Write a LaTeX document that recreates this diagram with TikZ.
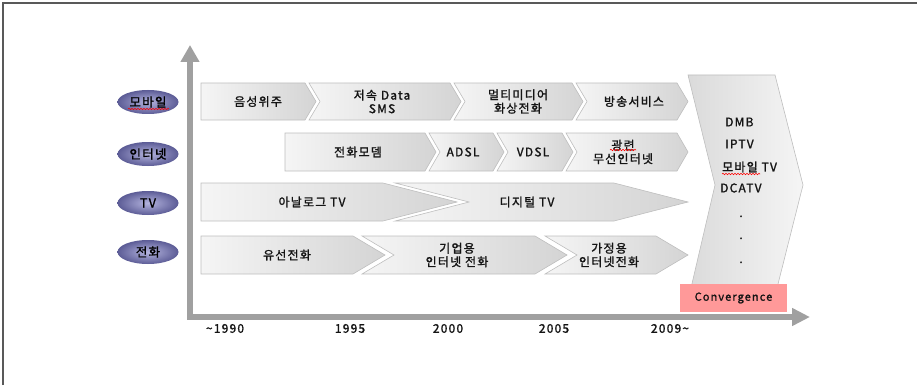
\documentclass[tikz,border=0pt]{standalone}
\usepackage{fontspec}
\setmainfont{Noto Sans CJK KR}[LetterSpace=10,FakeBold=1.4]
\usetikzlibrary{shapes.geometric,arrows.meta,decorations.pathmorphing}
\definecolor{axisgray}{RGB}{160,160,160}
\definecolor{boxedge}{RGB}{190,190,190}
\definecolor{boxlight}{RGB}{245,245,245}
\definecolor{boxdark}{RGB}{212,212,212}
\definecolor{catin}{RGB}{180,180,222}
\definecolor{catout}{RGB}{92,92,150}
\definecolor{convpink}{RGB}{255,153,153}
\definecolor{txt}{RGB}{20,20,20}
\newcommand\chevshape[6]{%
  \path[chevfill] (#1,#3) -- (#2,#3) -- ({#2+#5},{(#3+#4)/2}) -- (#2,#4) -- (#1,#4) -- ({#1+#6},{(#3+#4)/2}) -- cycle;}
\tikzset{
  chevfill/.style={draw=boxedge,line width=0.6pt,left color=boxlight,right color=boxdark},
  bigfill/.style={draw=boxedge,line width=0.6pt,left color=boxdark!85,right color=boxlight},
  lbl/.style={font=\fontsize{12}{13.5}\selectfont,text=txt,align=center,inner sep=0pt},
  yr/.style={font=\fontsize{12}{13}\selectfont,text=txt,inner sep=0pt},
  cat/.style={ellipse,minimum width=61pt,minimum height=24pt,inner sep=0pt,inner color=catin,outer color=catout,font=\fontsize{12.5}{13}\selectfont,text=black},
  axis/.style={draw=axisgray,line width=5.5pt,line join=miter,{Triangle[width=18pt,length=17pt]}-{Triangle[width=17pt,length=18pt]}},
  spell/.style={draw=red,line width=0.6pt,decorate,decoration={snake,amplitude=0.7pt,segment length=3pt}},
  conv/.style={fill=convpink,minimum width=107pt,minimum height=28pt,inner sep=0pt,font=\fontsize{11}{12}\selectfont,text=txt},
}
\begin{document}
\begin{tikzpicture}[x=1pt,y=-1pt]
\useasboundingbox (0,0) rectangle (917,385);
% frame
\draw[draw=black!65,line width=1.5pt] (3,385) -- (3,3) -- (917,3);
% axes
\coordinate (ytip) at (190,45);
\coordinate (xtip) at (810,317);
\draw[axis] (ytip) |- (xtip);
% category ellipses
\node[cat] (cmob) at (148,102) {모바일};
\node[cat] (cnet) at (148,154) {인터넷};
\node[cat] (ctv) at (148,203) {TV};
\node[cat] (ctel) at (148,252) {전화};
\draw[spell] (128,109) -- (169,109);
% mobile row
\chevshape{201}{305}{83}{120}{11}{0}
\chevshape{309}{450}{83}{120}{11}{11}
\chevshape{454}{572}{83}{120}{11}{11}
\chevshape{576}{677}{83}{120}{11}{11}
\node[lbl] (m1) at (258,101.5) {음성위주};
\node[lbl] (m2) at (382,101.5) {저속 Data\\SMS};
\node[lbl] (m3) at (518,101.5) {멀티미디어\\화상전화};
\node[lbl] (m4) at (634,101.5) {방송서비스};
% internet row
\chevshape{285}{425}{133}{171}{11}{0}
\chevshape{429}{493}{133}{171}{11}{11}
\chevshape{497}{562}{133}{171}{11}{11}
\chevshape{566}{677}{133}{171}{11}{11}
\node[lbl] (n1) at (358,152) {전화모뎀};
\node[lbl] (n2) at (463,152) {ADSL};
\node[lbl] (n3) at (533,152) {VDSL};
\node[lbl] (n4) at (623,152) {광련\\무선인터넷};
\draw[spell] (610,150) -- (636,150);
% TV row
\chevshape{201}{383}{183}{221}{74}{0}
\chevshape{395}{614}{183}{221}{74}{74}
\node[lbl] (v1) at (312,202) {아날로그 TV};
\node[lbl] (v2) at (527,202) {디지털 TV};
% phone row
\chevshape{201}{353}{236}{274}{32}{0}
\chevshape{362}{535}{236}{274}{32}{32}
\chevshape{545}{656}{236}{274}{32}{32}
\node[lbl] (p1) at (287,255) {유선전화};
\node[lbl] (p2) at (457,255) {기업용\\인터넷 전화};
\node[lbl] (p3) at (609,255) {가정용\\인터넷전화};
% convergence chevron
\path[bigfill] (688,75) -- (775,75) -- (803,185) -- (776.5,290) -- (690.5,290) -- (715,185) -- cycle;
\node[lbl,anchor=west] (g1) at (725,122) {DMB};
\node[lbl,anchor=west] (g2) at (725,144) {IPTV};
\node[lbl,anchor=west] (g3) at (722,167) {모바일 TV};
\node[lbl,anchor=west] (g4) at (720,188) {DCATV};
\draw[spell] (722,174) -- (760,174);
\node[lbl,anchor=base] (d1) at (741,217) {.};
\node[lbl,anchor=base] (d2) at (741,239) {.};
\node[lbl,anchor=base] (d3) at (741,263) {.};
\node[conv] (conv) at (733.5,298) {Convergence};
% years
\node[yr] (y1) at (225,328.5) {\textasciitilde 1990};
\node[yr] (y2) at (350,328.5) {1995};
\node[yr] (y3) at (448,328.5) {2000};
\node[yr] (y4) at (554,328.5) {2005};
\node[yr] (y5) at (670,328.5) {2009\textasciitilde};
\end{tikzpicture}
\end{document}
